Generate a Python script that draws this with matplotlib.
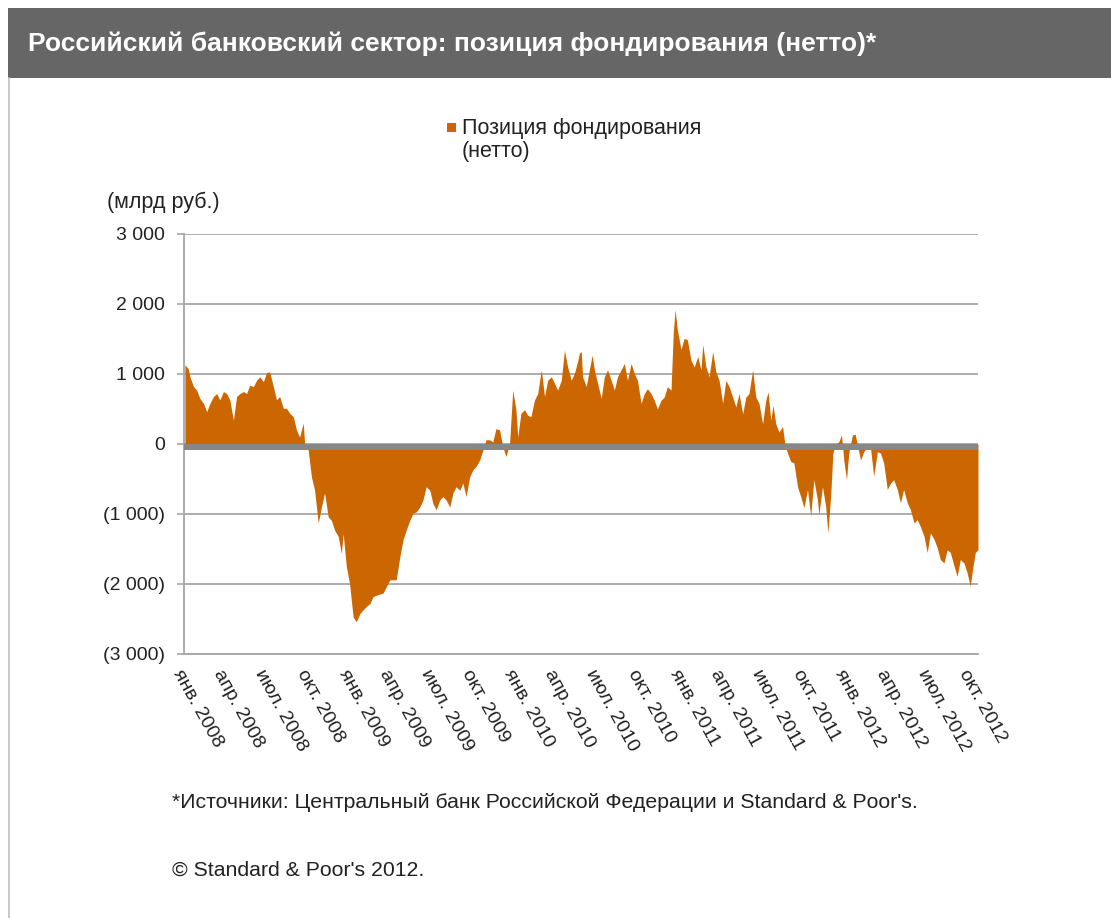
import matplotlib
matplotlib.use('Agg')
import matplotlib.pyplot as plt
from matplotlib.patches import Rectangle
from matplotlib.ticker import FixedLocator, FuncFormatter
import pandas as pd

plt.rcParams['font.family'] = ['Liberation Sans', 'DejaVu Sans']

# Net funding position of the Russian banking sector, bn RUB
dates = [
    '2008-01-03', '2008-01-10', '2008-01-14', '2008-01-22', '2008-01-29', '2008-02-05', '2008-02-13',
    '2008-02-20', '2008-02-27', '2008-03-06', '2008-03-13', '2008-03-20', '2008-03-28', '2008-04-04',
    '2008-04-11', '2008-04-19', '2008-04-26', '2008-05-03', '2008-05-11', '2008-05-18', '2008-05-25',
    '2008-06-02', '2008-06-09', '2008-06-16', '2008-06-24', '2008-07-01', '2008-07-08', '2008-07-16',
    '2008-07-23', '2008-07-30', '2008-08-07', '2008-08-14', '2008-08-21', '2008-08-29', '2008-09-05',
    '2008-09-12', '2008-09-20', '2008-09-23', '2008-10-01', '2008-10-08', '2008-10-15', '2008-10-23',
    '2008-10-30', '2008-11-06', '2008-11-14', '2008-11-21', '2008-11-28', '2008-12-06', '2008-12-13',
    '2008-12-17', '2008-12-24', '2008-12-31', '2009-01-08', '2009-01-15', '2009-01-23', '2009-01-30',
    '2009-02-06', '2009-02-14', '2009-02-21', '2009-02-28', '2009-03-15', '2009-03-30', '2009-04-13',
    '2009-04-21', '2009-04-28', '2009-05-05', '2009-05-13', '2009-05-20', '2009-05-27', '2009-06-04',
    '2009-06-11', '2009-06-18', '2009-06-26', '2009-07-03', '2009-07-10', '2009-07-18', '2009-07-25',
    '2009-08-01', '2009-08-09', '2009-08-16', '2009-08-23', '2009-08-31', '2009-09-07', '2009-09-14',
    '2009-09-22', '2009-09-29', '2009-10-06', '2009-10-14', '2009-10-21', '2009-10-28', '2009-11-05',
    '2009-11-12', '2009-11-19', '2009-11-27', '2009-12-04', '2009-12-11', '2009-12-19', '2009-12-26',
    '2010-01-02', '2010-01-06', '2010-01-13', '2010-01-21', '2010-01-28', '2010-02-04', '2010-02-12',
    '2010-02-19', '2010-02-27', '2010-03-06', '2010-03-13', '2010-03-21', '2010-03-28', '2010-04-04',
    '2010-04-12', '2010-04-19', '2010-04-26', '2010-05-04', '2010-05-11', '2010-05-18', '2010-05-22',
    '2010-05-26', '2010-05-29', '2010-06-06', '2010-06-13', '2010-06-19', '2010-06-24', '2010-07-01',
    '2010-07-09', '2010-07-16', '2010-07-23', '2010-07-31', '2010-08-07', '2010-08-14', '2010-08-22',
    '2010-08-29', '2010-09-05', '2010-09-13', '2010-09-20', '2010-09-27', '2010-10-05', '2010-10-12',
    '2010-10-19', '2010-10-27', '2010-11-03', '2010-11-10', '2010-11-18', '2010-11-25', '2010-12-02',
    '2010-12-10', '2010-12-15', '2010-12-19', '2010-12-24', '2011-01-01', '2011-01-08', '2011-01-15',
    '2011-01-23', '2011-01-30', '2011-02-07', '2011-02-14', '2011-02-18', '2011-02-25', '2011-03-04',
    '2011-03-12', '2011-03-19', '2011-03-26', '2011-04-03', '2011-04-10', '2011-04-17', '2011-04-25',
    '2011-05-02', '2011-05-09', '2011-05-17', '2011-05-24', '2011-05-31', '2011-06-08', '2011-06-15',
    '2011-06-22', '2011-06-30', '2011-07-07', '2011-07-12', '2011-07-18', '2011-07-23', '2011-07-29',
    '2011-08-05', '2011-08-13', '2011-08-18', '2011-08-24', '2011-08-31', '2011-09-07', '2011-09-15',
    '2011-09-22', '2011-09-29', '2011-10-07', '2011-10-14', '2011-10-21', '2011-10-29', '2011-11-01',
    '2011-11-09', '2011-11-16', '2011-11-21', '2011-11-27', '2011-12-02', '2011-12-08', '2011-12-15',
    '2011-12-21', '2011-12-26', '2012-01-01', '2012-01-06', '2012-01-14', '2012-01-20', '2012-01-25',
    '2012-02-01', '2012-02-08', '2012-02-16', '2012-02-23', '2012-03-01', '2012-03-09', '2012-03-16',
    '2012-03-23', '2012-03-31', '2012-04-07', '2012-04-14', '2012-04-22', '2012-04-29', '2012-05-06',
    '2012-05-14', '2012-05-21', '2012-05-29', '2012-06-05', '2012-06-12', '2012-06-20', '2012-06-27',
    '2012-07-04', '2012-07-12', '2012-07-19', '2012-07-26', '2012-08-03', '2012-08-10', '2012-08-17',
    '2012-08-25', '2012-09-01', '2012-09-08', '2012-09-16', '2012-09-23', '2012-09-30', '2012-10-05',
    '2012-10-11', '2012-10-17',
]
values = [
    1130, 1080, 960, 820, 770, 650, 580,
    460, 580, 680, 720, 630, 750, 720,
    630, 340, 680, 720, 750, 720, 840,
    820, 910, 960, 890, 1020, 1030, 820,
    630, 680, 510, 510, 440, 390, 200,
    100, 300, 0, -90, -470, -660, -1130,
    -900, -700, -1040, -1090, -1230, -1320, -1560,
    -1280, -1750, -1990, -2470, -2540, -2420, -2370,
    -2320, -2280, -2180, -2160, -2130, -1940, -1940,
    -1610, -1370, -1230, -1090, -990, -970, -900,
    -800, -610, -660, -850, -940, -800, -750,
    -800, -900, -700, -610, -660, -560, -750,
    -470, -370, -320, -230, -90, 60, 60,
    30, 220, 200, -40, -180, 10, 770,
    490, 100, 440, 490, 410, 390, 630,
    720, 1060, 680, 910, 960, 870, 770,
    910, 1340, 1100, 910, 1010, 1180, 1300,
    1320, 960, 820, 1060, 1270, 1060, 870,
    650, 960, 1060, 910, 770, 960, 1060,
    1150, 910, 1150, 1010, 910, 580, 720,
    790, 720, 625, 500, 625, 670, 820,
    770, 1590, 1920, 1630, 1350, 1510, 1490,
    1200, 1100, 1250, 1060, 1420, 1100, 960,
    1320, 1030, 910, 580, 910, 820, 670,
    530, 720, 430, 670, 720, 1060, 670,
    580, 290, 625, 745, 340, 550, 290,
    170, 250, 0, -130, -250, -270, -610,
    -750, -910, -650, -1030, -510, -800, -1010,
    -610, -890, -1270, -750, -130, 0, 30,
    130, -230, -510, -130, 130, 140, -15,
    -230, -110, -40, -60, -460, -110, -130,
    -270, -650, -560, -510, -650, -840, -650,
    -840, -940, -1130, -1080, -1180, -1320, -1550,
    -1270, -1360, -1480, -1650, -1700, -1510, -1550,
    -1740, -1890, -1650, -1700, -1840, -2030, -1790,
    -1550, -1510,
]

tick_dates = pd.date_range('2008-01-01', '2012-10-01', freq='3MS')
month_names = {1: 'янв.', 4: 'апр.', 7: 'июл.', 10: 'окт.'}
y_ticks = [3000, 2000, 1000, 0, -1000, -2000, -3000]

W, H = 1111, 918
fig = plt.figure(figsize=(W / 100, H / 100), dpi=100)

# title bar and left frame line
fig.patches.append(Rectangle((8 / W, 1 - 78 / H), 1 - 8 / W, 70 / H, transform=fig.transFigure,
                             facecolor='#666666', edgecolor='none'))
fig.add_artist(plt.Line2D([8.5 / W, 8.5 / W], [0, 1 - 78 / H], transform=fig.transFigure,
                          color='#BFBFBF', lw=1.2))
fig.text(28 / W, 1 - 44 / H, 'Российский банковский сектор: позиция фондирования (нетто)*',
         color='white', fontsize=19, fontweight='bold', va='center', ha='left')

# legend
fig.patches.append(Rectangle((447 / W, 1 - 132 / H), 9 / W, 9 / H, transform=fig.transFigure,
                             facecolor='#CC6600', edgecolor='none'))
fig.text(462 / W, 1 - 140 / H, 'Позиция фондирования\n(нетто)', fontsize=15.5,
         va='center', ha='left', linespacing=1.1, color='#222222')

fig.text(107 / W, 1 - 202 / H, '(млрд руб.)', fontsize=15.5, va='center', ha='left', color='#222222')

ax = fig.add_axes([184 / W, 1 - 654 / H, (978 - 184) / W, (654 - 234) / H])
x = pd.to_datetime(dates)
ax.fill_between(x, values, 0, color='#CC6600', linewidth=0, zorder=2)
ax.axhspan(-85, 0, color='#878787', lw=0, zorder=3)

ax.set_ylim(-3000, 3000)
ax.set_xlim(pd.Timestamp('2008-01-01'), pd.Timestamp('2012-10-17'))
ax.yaxis.set_major_locator(FixedLocator(y_ticks))


def fmt(v, pos):
    s = f'{abs(v):,.0f}'.replace(',', ' ')
    return f'({s})' if v < 0 else s


ax.yaxis.set_major_formatter(FuncFormatter(fmt))
ax.grid(axis='y', color='#A6A6A6', lw=1.3, zorder=1)
ax.set_axisbelow(True)
for side in ['top', 'right']:
    ax.spines[side].set_visible(False)
for side in ['left', 'bottom']:
    ax.spines[side].set_color('#A6A6A6')
    ax.spines[side].set_linewidth(1.3)
ax.tick_params(axis='y', length=5, color='#A6A6A6', width=1.2, labelsize=14,
               labelcolor='#222222', pad=8.5)

ax.set_xticks(tick_dates)
ax.set_xticklabels([f'{month_names[d.month]} {d.year}' for d in tick_dates],
                   rotation=-61, ha='left', va='top', rotation_mode='anchor',
                   fontsize=14, color='#222222')
ax.tick_params(axis='x', length=0, pad=9)

fig.text(172 / W, 1 - 803 / H,
         "*Источники: Центральный банк Российской Федерации и Standard & Poor's.",
         fontsize=15.3, va='center', ha='left', color='#222222')
fig.text(172 / W, 1 - 870 / H, "© Standard & Poor's 2012.",
         fontsize=15.3, va='center', ha='left', color='#222222')

fig.savefig('out.png', dpi=100)
